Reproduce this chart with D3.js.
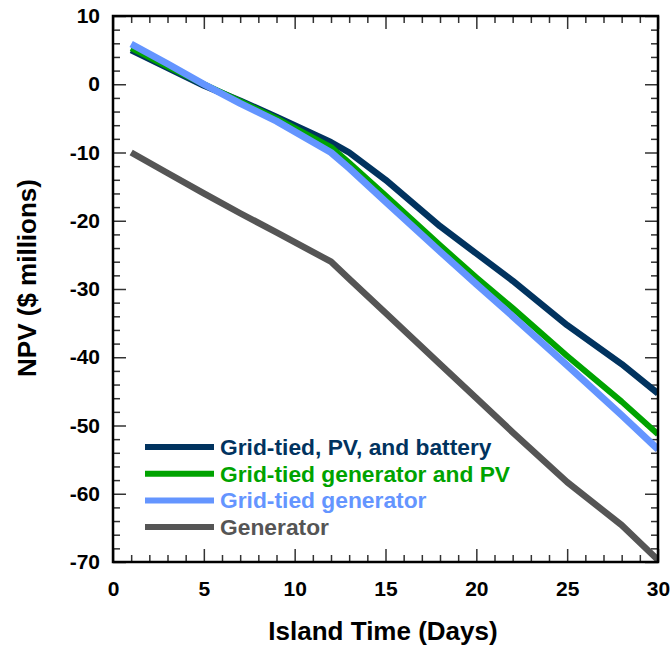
<!DOCTYPE html>
<html>
<head>
<meta charset="utf-8">
<script src="https://cdn.jsdelivr.net/npm/d3@7"></script>
<style>
  html, body { margin: 0; padding: 0; background: #fff; }
  svg { display: block; font-family: "Liberation Sans", Arial, sans-serif; }
</style>
</head>
<body>
<svg id="chart" width="672" height="646"></svg>
<script>
// ---- data ----
const days = [1, 3, 5, 7, 9, 12, 13, 15, 18, 20, 22, 25, 28, 30];
const pvBattery   = [5.0, 2.4, -0.2, -2.4, -4.8, -8.5, -10.0, -14.0, -20.8, -24.8, -28.8, -35.3, -41.0, -45.3];
const genPV       = [5.3, 2.6, 0.0, -2.5, -5.0, -9.2, -11.5, -16.3, -23.6, -28.3, -32.8, -39.8, -46.5, -51.3];
const gridGen     = [5.9, 3.0, 0.0, -2.8, -5.4, -10.0, -12.3, -17.2, -24.5, -29.3, -34.0, -41.2, -48.5, -53.5];
const generator   = [-10.0, -13.0, -16.0, -18.9, -21.7, -26.0, -28.5, -33.5, -41.0, -46.0, -51.0, -58.3, -64.6, -69.7];
const seriesNames = ["Grid-tied, PV, and battery", "Grid-tied generator and PV", "Grid-tied generator", "Generator"];
const xMajorTicks = [0, 5, 10, 15, 20, 25, 30];
const yMajorTicks = [10, 0, -10, -20, -30, -40, -50, -60, -70];
const xTitle = "Island Time (Days)";
const yTitle = "NPV ($ millions)";

// ---- styling ----
const colors = ["#01335F", "#00A300", "#6495FF", "#555555"];
const widths = [6.5, 6, 7, 6.5];
const seriesValues = [pvBattery, genPV, gridGen, generator];

const svg = d3.select("#chart");
const L = 113, R = 658, T = 16, B = 562;
const x = d3.scaleLinear().domain([0, 30]).range([L, R]);
const y = d3.scaleLinear().domain([-70, 10]).range([B, T]);

const xMinor = d3.range(0, 31, 1).filter(v => v % 5 !== 0);
const yMinor = d3.range(-70, 11, 2).filter(v => v % 10 !== 0);
const fmt = d => String(d);   // plain hyphen-minus like the reference

function styleAxis(g) {
  g.select(".domain").remove();
  g.selectAll(".tick line").attr("stroke", "#333").attr("stroke-width", 1.5);
}

// minor ticks (inward)
svg.append("g").attr("transform", `translate(0,${B})`)
  .call(d3.axisBottom(x).tickValues(xMinor).tickSize(-7).tickFormat(""))
  .call(styleAxis);
svg.append("g").attr("transform", `translate(0,${T})`)
  .call(d3.axisTop(x).tickValues(xMinor).tickSize(-7).tickFormat(""))
  .call(styleAxis);
svg.append("g").attr("transform", `translate(${L},0)`)
  .call(d3.axisLeft(y).tickValues(yMinor).tickSize(-7).tickFormat(""))
  .call(styleAxis);
svg.append("g").attr("transform", `translate(${R},0)`)
  .call(d3.axisRight(y).tickValues(yMinor).tickSize(-7).tickFormat(""))
  .call(styleAxis);

// major ticks
const gx = svg.append("g").attr("transform", `translate(0,${B})`)
  .call(d3.axisBottom(x).tickValues(xMajorTicks).tickSize(-13).tickPadding(19).tickFormat(fmt))
  .call(styleAxis);
svg.append("g").attr("transform", `translate(0,${T})`)
  .call(d3.axisTop(x).tickValues(xMajorTicks).tickSize(-13).tickFormat(""))
  .call(styleAxis);
const gy = svg.append("g").attr("transform", `translate(${L},0)`)
  .call(d3.axisLeft(y).tickValues(yMajorTicks).tickSize(-13).tickPadding(13).tickFormat(fmt))
  .call(styleAxis);
svg.append("g").attr("transform", `translate(${R},0)`)
  .call(d3.axisRight(y).tickValues(yMajorTicks).tickSize(-13).tickFormat(""))
  .call(styleAxis);

[gx, gy].forEach(g => g.selectAll(".tick text")
  .attr("font-family", "'Liberation Sans', Arial, sans-serif")
  .attr("font-size", 21).attr("font-weight", "bold").attr("fill", "#000"));

// lines (gray first, then navy, green, blue on top)
const line = d3.line().x((d, i) => x(days[i])).y(d => y(d));
const drawOrder = [3, 0, 1, 2];
const clipId = "plotclip";
svg.append("clipPath").attr("id", clipId).append("rect")
  .attr("x", L - 6).attr("y", T).attr("width", R - L + 6).attr("height", B - T + 1);
drawOrder.forEach(k => {
  svg.append("path")
    .datum(seriesValues[k])
    .attr("d", line)
    .attr("fill", "none")
    .attr("stroke", colors[k])
    .attr("stroke-width", widths[k])
    .attr("stroke-linejoin", "round")
    .attr("stroke-linecap", "butt")
    .attr("clip-path", `url(#${clipId})`);
});

// frame
svg.append("rect").attr("x", L).attr("y", T).attr("width", R - L).attr("height", B - T)
  .attr("fill", "none").attr("stroke", "#000").attr("stroke-width", 2.5);

// legend
const leg = svg.append("g");
seriesNames.forEach((name, i) => {
  const ly = 447 + i * 26.7;
  leg.append("line").attr("x1", 145).attr("x2", 214).attr("y1", ly).attr("y2", ly)
    .attr("stroke", colors[i]).attr("stroke-width", 6);
  leg.append("text").attr("x", 220).attr("y", ly + 8)
    .attr("font-size", 22.8).attr("font-weight", "bold").attr("fill", colors[i])
    .text(name);
});

// axis titles
svg.append("text").attr("x", 383).attr("y", 640)
  .attr("text-anchor", "middle").attr("font-size", 26).attr("font-weight", "bold")
  .attr("fill", "#000").text(xTitle);
svg.append("text").attr("transform", `translate(36,278) rotate(-90)`)
  .attr("text-anchor", "middle").attr("font-size", 26).attr("font-weight", "bold")
  .attr("fill", "#000").text(yTitle);
</script>
</body>
</html>
